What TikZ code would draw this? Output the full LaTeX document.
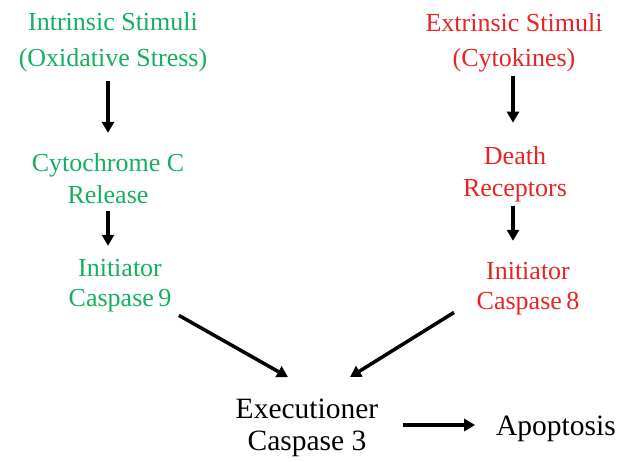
\documentclass[tikz,border=0pt]{standalone}
\usepackage{fontspec}
\setmainfont{Liberation Serif}
\usetikzlibrary{arrows.meta}
\definecolor{igreen}{RGB}{20,176,95}
\definecolor{ired}{RGB}{232,35,38}
\tikzset{
  lbl/.style={inner sep=0pt, outer sep=0pt, align=center},
  grn/.style={lbl, text=igreen, font=\rmfamily\fontsize{26}{#1}\selectfont},
  rd/.style={lbl, text=ired, font=\rmfamily\fontsize{26}{#1}\selectfont},
  blk/.style={lbl, text=black, font=\rmfamily\fontsize{29.5}{32}\selectfont},
  arr/.style={line width=3.5pt, -{Triangle[length=11pt,width=12pt]}}
}
\begin{document}
\begin{tikzpicture}[x=1pt,y=1pt]
\useasboundingbox (0,0) rectangle (622,462);
% left column
\node[grn=36] (int) at (113,419.5) {Intrinsic Stimuli\\(Oxidative Stress)};
\node[grn=32] (cyto) at (108,283) {Cytochrome C\\Release};
\node[grn=30] (ini9) at (120,176.8) {Initiator\\Caspase\,9};
% right column
\node[rd=35] (ext) at (514,419.5) {Extrinsic Stimuli\\(Cytokines)};
\node[rd=32] (death) at (515,288) {Death\\Receptors};
\node[rd=30] (ini8) at (528,173.8) {Initiator\\Caspase\,8};
% bottom
\node[blk] (exe) at (307,34.6) {Executioner\\Caspase 3};
\node[blk] (apo) at (556,33.5) {Apoptosis};
% arrows
\draw[arr] ([xshift=-5pt,yshift=-8.3pt]int.south) -- ([yshift=21pt]cyto.north);
\draw[arr] ([yshift=-6.5pt]cyto.south) -- ([xshift=-12pt,yshift=13pt]ini9.north);
\draw[arr] ([xshift=-1pt,yshift=-3.8pt]ext.south) -- ([xshift=-2pt,yshift=23.5pt]death.north);
\draw[arr] ([xshift=-2pt,yshift=-3.8pt]death.south) -- ([xshift=-15pt,yshift=21pt]ini8.north);
\draw[arr] ([xshift=7.7pt,yshift=-3.85pt]ini9.south east) -- ([xshift=-19pt,yshift=21.4pt]exe.north);
\draw[arr] ([xshift=-22.7pt,yshift=2.15pt]ini8.south west) -- ([xshift=43pt,yshift=21.4pt]exe.north);
\draw[arr] ([xshift=25pt,yshift=2.4pt]exe.east) -- ([xshift=-21pt,yshift=3.5pt]apo.west);
\end{tikzpicture}
\end{document}
